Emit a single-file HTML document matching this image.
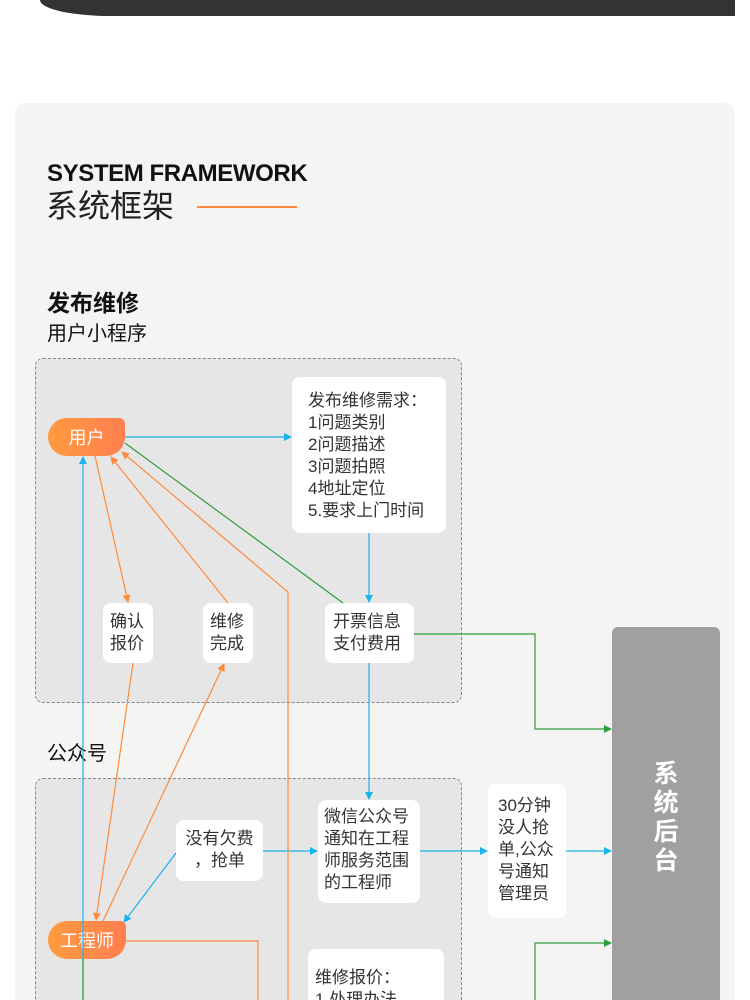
<!DOCTYPE html>
<html style="width:750px;height:1000px;overflow:hidden"><head><meta charset="utf-8"><style>
*{margin:0;padding:0;box-sizing:border-box}
body{width:750px;height:1000px;overflow:hidden;background:#fff;position:relative;font-family:"Liberation Sans","Noto Sans CJK SC",sans-serif;color:#333}
.abs{position:absolute}
.box{position:absolute;background:#fff;border-radius:8px;font-size:17px;line-height:22px;color:#333}
.dash{position:absolute;border:1px dashed #888;background:#e6e6e6;border-radius:8px}
.pill{position:absolute;background:linear-gradient(90deg,#ff9a40,#ff7f50);color:#fff;font-size:18px;display:flex;align-items:center;justify-content:center;border-radius:19px 6px 19px 19px}
</style></head><body>
<div class="abs" style="left:40px;top:0;width:695px;height:16px;background:#333;border-bottom-left-radius:70px 16px"></div>
<div class="abs" style="left:15px;top:103px;width:720px;height:897px;background:#f4f4f2;border-radius:10px 10px 0 0"></div>
<div class="abs" style="left:47px;top:160px;font-size:24px;font-weight:bold;color:#111;letter-spacing:-0.4px">SYSTEM FRAMEWORK</div>
<div class="abs" style="left:46px;top:187px;font-size:32px;line-height:38px;color:#222">系统框架</div>
<div class="abs" style="left:197px;top:206px;width:100px;height:2px;background:#ff8a3d"></div>
<div class="abs" style="left:47px;top:284px;font-size:23px;font-weight:bold;color:#111">发布维修</div>
<div class="abs" style="left:47px;top:317px;font-size:20px;color:#111">用户小程序</div>
<div class="dash" style="left:35px;top:358px;width:427px;height:345px"></div>
<div class="abs" style="left:47px;top:737px;font-size:20px;color:#111">公众号</div>
<div class="dash" style="left:35px;top:778px;width:427px;height:240px"></div>
<div class="abs" style="left:612px;top:627px;width:108px;height:373px;background:#a0a0a0;border-radius:6px 6px 0 0"></div>
<div class="abs" style="left:652px;top:760px;width:28px;font-size:25px;line-height:29px;font-weight:bold;color:#fff;text-align:center">系统后台</div>

<div class="pill" style="left:48px;top:418px;width:77px;height:38px">用户</div>
<div class="pill" style="left:48px;top:921px;width:78px;height:38px">工程师</div>

<div class="box" style="left:292px;top:377px;width:154px;height:156px;padding:13px 0 0 16px">发布维修需求：<br>1问题类别<br>2问题描述<br>3问题拍照<br>4地址定位<br>5.要求上门时间</div>
<div class="box" style="left:103px;top:603px;width:50px;height:60px;padding:8px 0 0 7px">确认<br>报价</div>
<div class="box" style="left:203px;top:603px;width:50px;height:60px;padding:8px 0 0 7px">维修<br>完成</div>
<div class="box" style="left:325px;top:603px;width:89px;height:60px;padding:8px 0 0 8px">开票信息<br>支付费用</div>
<div class="box" style="left:176px;top:820px;width:87px;height:61px;padding:8px 8px 0 8px;text-align:center">没有欠费<br>，抢单</div>
<div class="box" style="left:318px;top:800px;width:102px;height:103px;padding:6px 0 0 6px">微信公众号<br>通知在工程<br>师服务范围<br>的工程师</div>
<div class="box" style="left:488px;top:784px;width:78px;height:134px;padding:11px 0 0 10px">30分钟<br>没人抢<br>单,公众<br>号通知<br>管理员</div>
<div class="box" style="left:308px;top:949px;width:136px;height:80px;padding:18px 0 0 7px">维修报价：<br>1.处理办法</div>

<svg class="abs" style="left:0;top:0" width="750" height="1000">
<defs>
<marker id="b" markerWidth="8" markerHeight="8" refX="7" refY="4" orient="auto" markerUnits="userSpaceOnUse"><path d="M0,0L8,4L0,8z" fill="#1ab3ea"/></marker>
<marker id="o" markerWidth="8" markerHeight="8" refX="7" refY="4" orient="auto" markerUnits="userSpaceOnUse"><path d="M0,0L8,4L0,8z" fill="#ff8a3d"/></marker>
<marker id="g" markerWidth="8" markerHeight="8" refX="7" refY="4" orient="auto" markerUnits="userSpaceOnUse"><path d="M0,0L8,4L0,8z" fill="#2e9e3e"/></marker>
</defs>
<g fill="none" stroke-width="1.2">
<path d="M125,437H291" stroke="#1ab3ea" marker-end="url(#b)"/>
<path d="M369,533V602" stroke="#1ab3ea" marker-end="url(#b)"/>
<path d="M369,663V799" stroke="#1ab3ea" marker-end="url(#b)"/>
<path d="M83,1000V457" stroke="#1ab3ea" marker-end="url(#b)"/>
<path d="M263,851H317" stroke="#1ab3ea" marker-end="url(#b)"/>
<path d="M420,851H487" stroke="#1ab3ea" marker-end="url(#b)"/>
<path d="M566,851H611" stroke="#1ab3ea" marker-end="url(#b)"/>
<path d="M176,853L124,922" stroke="#1ab3ea" marker-end="url(#b)"/>
<path d="M125,443L343,603" stroke="#2e9e3e"/>
<path d="M414,634H535V729H611" stroke="#2e9e3e" marker-end="url(#g)"/>
<path d="M535,1000V943H611" stroke="#2e9e3e" marker-end="url(#g)"/>
<path d="M83,959V1000" stroke="#2e9e3e"/>
<path d="M95,456L128,602" stroke="#ff8a3d" marker-end="url(#o)"/>
<path d="M133,663L96,920" stroke="#ff8a3d" marker-end="url(#o)"/>
<path d="M103,921L224,664" stroke="#ff8a3d" marker-end="url(#o)"/>
<path d="M228,603L111,457" stroke="#ff8a3d" marker-end="url(#o)"/>
<path d="M288,1000V592L122,452" stroke="#ff8a3d" marker-end="url(#o)"/>
<path d="M126,941H258V1000" stroke="#ff8a3d"/>
</g>
</svg>
</body></html>
